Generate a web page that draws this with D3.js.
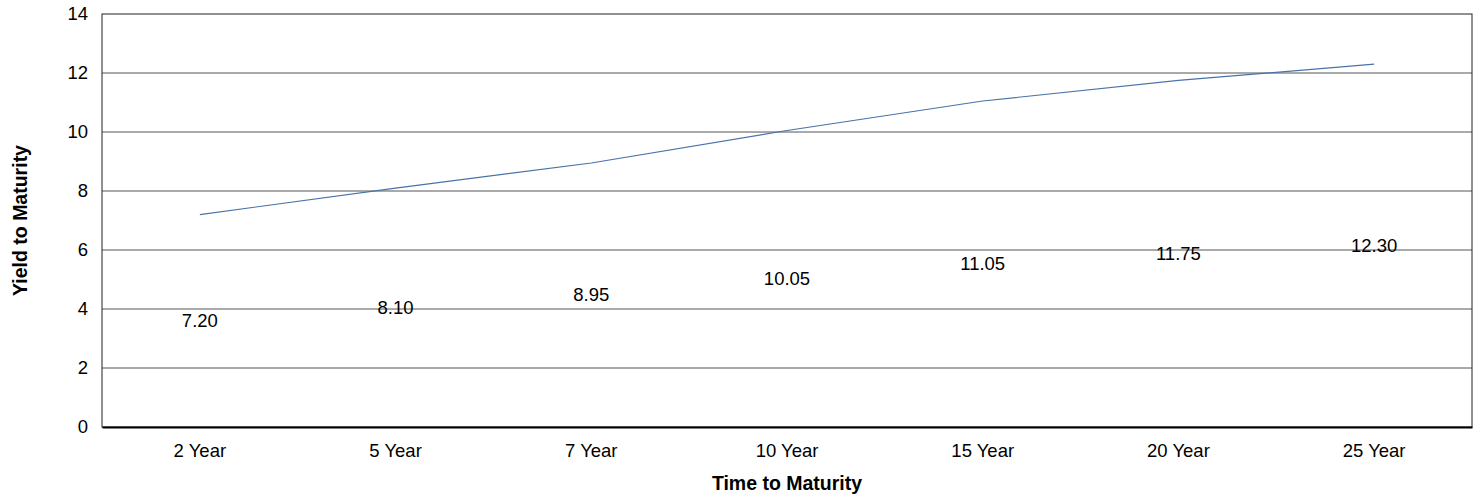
<!DOCTYPE html>
<html>
<head>
<meta charset="utf-8">
<script src="https://cdn.jsdelivr.net/npm/d3@7"></script>
<style>
  body { margin: 0; background: #fff; }
  svg text { font-family: "Liberation Sans", Arial, sans-serif; fill: #000; }
</style>
</head>
<body>
<div id="chart"></div>
<script>
// données
const maturities = ["2 Year", "5 Year", "7 Year", "10 Year", "15 Year", "20 Year", "25 Year"];
const yields = [7.20, 8.10, 8.95, 10.05, 11.05, 11.75, 12.30];
const yTicks = [0, 2, 4, 6, 8, 10, 12, 14];

const W = 1481, H = 502;
const margin = { top: 14, right: 9, bottom: 75, left: 102 };
const width = W - margin.left - margin.right;
const height = H - margin.top - margin.bottom;
const fs = "18.5px";

const svg = d3.select("#chart").append("svg")
    .attr("width", W)
    .attr("height", H);

const g = svg.append("g")
    .attr("transform", `translate(${margin.left},${margin.top})`);

// échelles
const x = d3.scaleBand().domain(maturities).range([0, width]);
const y = d3.scaleLinear().domain([0, 14]).range([height, 0]);

// grille horizontale
g.append("g")
    .selectAll("line")
    .data(yTicks.filter(d => d > 0 && d < 14))
    .enter().append("line")
    .attr("x1", 0).attr("x2", width)
    .attr("y1", d => y(d)).attr("y2", d => y(d))
    .attr("stroke", "#555")
    .attr("stroke-width", 1);

// cadre
g.append("rect")
    .attr("x", 0).attr("y", 0)
    .attr("width", width).attr("height", height)
    .attr("fill", "none")
    .attr("stroke", "#222")
    .attr("stroke-width", 1);

// axe Y
const yAxis = g.append("g")
    .call(d3.axisLeft(y).tickValues(yTicks).tickSize(0).tickPadding(14));
yAxis.select(".domain").remove();
yAxis.selectAll("text").style("font-size", fs);

// axe X
const xAxis = g.append("g")
    .attr("transform", `translate(0,${height})`)
    .call(d3.axisBottom(x).tickSize(0).tickPadding(17));
xAxis.select(".domain")
    .attr("stroke", "#000")
    .attr("stroke-width", 2);
xAxis.selectAll("text").style("font-size", fs);

// ligne
const line = d3.line()
    .x((d, i) => x(maturities[i]) + x.bandwidth() / 2)
    .y(d => y(d));

g.append("path")
    .datum(yields)
    .attr("fill", "none")
    .attr("stroke", "#4a72a8")
    .attr("stroke-width", 1.2)
    .attr("d", line);

// étiquettes (à mi-hauteur, comme dans l'original)
g.append("g")
    .selectAll("text")
    .data(yields)
    .enter().append("text")
    .attr("x", (d, i) => x(maturities[i]) + x.bandwidth() / 2)
    .attr("y", d => y(d / 2))
    .attr("dy", "0.35em")
    .attr("text-anchor", "middle")
    .style("font-size", fs)
    .text(d => d.toFixed(2));

// titres des axes
svg.append("text")
    .attr("x", margin.left + width / 2)
    .attr("y", 483)
    .attr("dy", "0.35em")
    .attr("text-anchor", "middle")
    .style("font-size", "19.5px")
    .style("font-weight", "bold")
    .text("Time to Maturity");

svg.append("text")
    .attr("transform", `translate(20,${margin.top + height / 2}) rotate(-90)`)
    .attr("dy", "0.35em")
    .attr("text-anchor", "middle")
    .style("font-size", "19.5px")
    .style("font-weight", "bold")
    .text("Yield to Maturity");
</script>
</body>
</html>
